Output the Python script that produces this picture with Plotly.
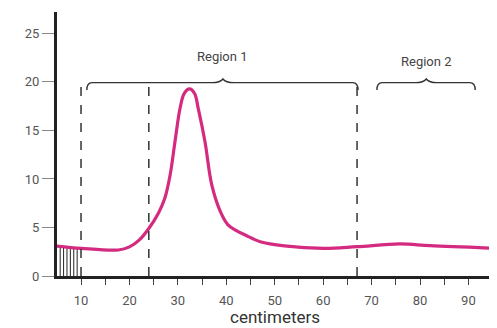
import numpy as np
import plotly.graph_objects as go

# curve (centimeters vs value)
curve_x = [5.0, 10.1, 17.7, 20.0, 22.0, 24.0, 26.0, 27.3, 28.4, 29.4, 30.45, 31.3, 32.4,
           33.45, 34.2, 35.6, 37.0, 38.8, 40.3, 42.0, 44.0, 47.0, 52.0, 60.1, 67.0, 75.9, 82.1, 95.9]
curve_y = [3.09, 2.85, 2.68, 3.0, 3.7, 4.9, 6.5, 8.0, 10.4, 13.84, 17.28, 18.8, 19.27,
           18.8, 17.28, 13.84, 9.38, 6.6, 5.3, 4.7, 4.2, 3.53, 3.1, 2.85, 3.02, 3.30, 3.12, 2.85]

hatch_x = [5.7, 6.4, 7.1, 7.8, 8.5, 9.2]
boundaries = [10, 24, 67, 95]
dash_top = 20

region_names = ["Region 1", "Region 2"]
region_start = [11.2, 71.1]
region_end = [67.2, 91.4]
region_mid = [39.3, 81.3]
brace_y = 19.92
brace_peak = 20.3
brace_low = 19.16
label_y = [22.6, 22.15]

x_ticks = [10, 20, 30, 40, 50, 60, 70, 80, 90]
y_ticks = [0, 5, 10, 15, 20, 25]

fig = go.Figure()

# hatch lines
hx, hy = [], []
for x in hatch_x:
    top = float(np.interp(x, curve_x, curve_y))
    hx += [x, x, None]
    hy += [0, top, None]
fig.add_trace(go.Scatter(x=hx, y=hy, mode="lines", line=dict(color="#222", width=1),
                         hoverinfo="skip", showlegend=False))

fig.add_trace(go.Scatter(x=curve_x, y=curve_y, mode="lines",
                         line=dict(color="#d42a80", width=3.2, shape="spline", smoothing=1.0),
                         showlegend=False))

shapes = []
for b in boundaries:
    shapes.append(dict(type="line", xref="x", yref="y", x0=b, x1=b, y0=0, y1=dash_top,
                       line=dict(color="#333", width=1.5, dash="dash")))

def brace(x0, x1, xm):
    r = 1.1
    w = 2.2
    yl, yp, yb = brace_y, brace_peak, brace_low
    return (f"M {x0},{yb} Q {x0},{yl} {x0 + r},{yl} L {xm - w},{yl} "
            f"Q {xm - 0.6},{yl} {xm},{yp} Q {xm + 0.6},{yl} {xm + w},{yl} "
            f"L {x1 - r},{yl} Q {x1},{yl} {x1},{yb}")

for s, e, m in zip(region_start, region_end, region_mid):
    shapes.append(dict(type="path", xref="x", yref="y", path=brace(s, e, m),
                       line=dict(color="#333", width=1.4)))

annotations = []
for name, m, ly in zip(region_names, region_mid, label_y):
    annotations.append(dict(x=m, y=ly, xref="x", yref="y", text=name, showarrow=False,
                            font=dict(size=13, color="#444")))
annotations.append(dict(x=0.495, y=-0.197, xref="paper", yref="paper", text="centimeters",
                        showarrow=False, yanchor="bottom", borderpad=0,
                        font=dict(size=17, color="#333")))

# page body has an 8px margin, so the figure is sized/offset to compensate
fig.update_layout(
    width=489, height=320,
    margin=dict(l=49, r=0, t=4, b=52),
    paper_bgcolor="white", plot_bgcolor="white",
    font=dict(family="Roboto", color="#555"),
    shapes=shapes, annotations=annotations,
    xaxis=dict(range=[5.04, 95.9], tickvals=x_ticks, showgrid=False, zeroline=False,
               showline=True, linecolor="#222", linewidth=3,
               ticks="outside", ticklen=6, tickcolor="#444", tickwidth=1,
               tickfont=dict(size=13, color="#555"), ticklabelstandoff=4,
               minor=dict(tickvals=[15, 25, 35, 45, 55, 65, 75, 85], ticks="outside",
                          ticklen=6, tickcolor="#444", tickwidth=1)),
    yaxis=dict(range=[0, 27.2], tickvals=y_ticks, showgrid=False, zeroline=False,
               showline=True, linecolor="#222", linewidth=3,
               ticks="outside", ticklen=12, tickcolor="#888", tickwidth=1,
               tickfont=dict(size=13, color="#555")),
)

fig.write_html("out.html")
